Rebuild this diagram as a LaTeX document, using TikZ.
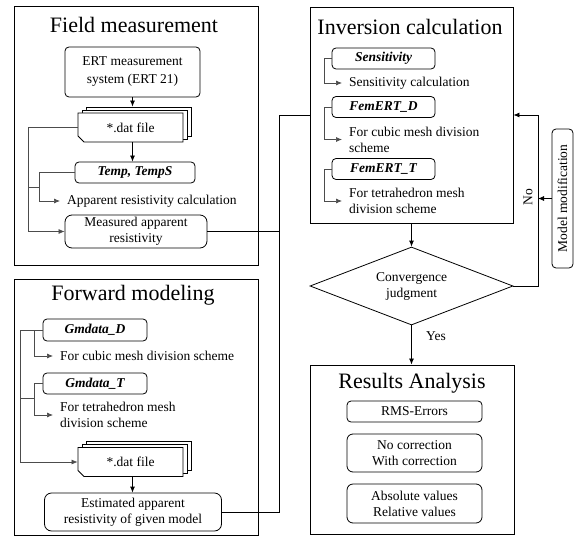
\documentclass[tikz,border=0pt]{standalone}
\usepackage{fontspec}
\setmainfont{Liberation Serif}
\usetikzlibrary{arrows.meta,shapes.geometric,shapes.misc}
\begin{document}
\begin{tikzpicture}[x=1pt,y=-1pt,
  font=\fontsize{13.5}{16}\selectfont,
  frame/.style={draw, line width=0.9pt, inner sep=0pt},
  title/.style={font=\fontsize{22}{26}\selectfont, inner sep=0pt},
  rbox/.style={draw, rounded corners=4pt, line width=0.8pt, align=center, inner sep=1pt, fill=white},
  prog/.style={rbox, font=\fontsize{13.5}{16}\selectfont\bfseries\itshape},
  lbl/.style={anchor=west, align=left, inner xsep=7pt, inner ysep=0pt},
  arr/.style={-{Latex[length=6pt,width=5pt]}, line width=0.8pt},
  brk/.style={-{Latex[length=6pt,width=5pt]}, line width=0.7pt, draw=black!70},
  link/.style={line width=0.8pt},
  gline/.style={line width=0.7pt, draw=black!70},
  datf/.style={draw, fill=white, line width=0.8pt, chamfered rectangle,
    chamfered rectangle corners=south west, chamfered rectangle xsep=3pt,
    chamfered rectangle ysep=3pt, minimum width=105pt, minimum height=29pt, inner sep=0pt},
]
\useasboundingbox (0,0) rectangle (577,537);

% ---------------- Field measurement ----------------
\node[frame, minimum width=244pt, minimum height=259pt] (field) at (136,135.5) {};
\node[title] (fieldt) at (134,25) {Field measurement};
\node[rbox, minimum width=135pt, minimum height=50pt] (ert) at (132.5,72) {ERT measurement\\[2pt]system (ERT 21)};
\node[datf] (dat1c) at (138.5,121.5) {};
\node[datf] (dat1b) at (134.5,124.5) {};
\node[datf] (dat1) at (130.5,127.5) {*.dat file};
\node[prog, minimum width=120pt, minimum height=21pt] (temp) at (135,172.5) {Temp, TempS};
\node[lbl] (calc1) at (60,201) {Apparent resistivity calculation};
\node[rbox, rounded corners=7pt, minimum width=142pt, minimum height=33pt] (meas) at (136,231.5) {Measured apparent\\resistivity};
\coordinate (h1) at (0,187);

\draw[arr] (ert.south) -- (ert.south |- dat1c.north);
\draw[arr] (dat1.south -| ert.south) -- (ert.south |- temp.north);
\draw[brk] (temp.west) -- ++(-35,0) coordinate (j1) |- (calc1.west);
\draw[brk] (dat1.west) -- ++(-49,0) coordinate (j2) |- (meas.west);
\draw[gline] (j2 |- h1) -- (j1 |- h1);

% ---------------- Forward modeling ----------------
\node[frame, minimum width=244pt, minimum height=256pt] (fwd) at (136,407) {};
\node[title] (fwdt) at (133,295) {Forward modeling};
\node[prog, minimum width=104pt, minimum height=22pt] (gdd) at (95,330) {Gmdata\_D};
\node[lbl] (cub1) at (53,356) {For cubic mesh division scheme};
\node[prog, minimum width=104pt, minimum height=21pt] (gdt) at (95,383.5) {Gmdata\_T};
\node[lbl] (tet1) at (53,415) {For tetrahedron mesh\\division scheme};
\node[datf] (dat2c) at (138.5,456) {};
\node[datf] (dat2b) at (134.5,459) {};
\node[datf] (dat2) at (130.5,462) {*.dat file};
\node[rbox, rounded corners=7pt, minimum width=177pt, minimum height=38pt] (est) at (133,512) {Estimated apparent\\resistivity of given model};
\coordinate (h2) at (0,398);

\draw[brk] (gdd.west) -- ++(-8,0) coordinate (j3) |- (cub1.west);
\draw[brk] (j3) -- ++(-14,0) coordinate (j4) |- (dat2.west);
\draw[brk] (gdt.west) -- ++(-8,0) coordinate (j5) |- (tet1.west);
\draw[gline] (j4 |- h2) -- (j5 |- h2);
\draw[arr] (dat2.south -| ert.south) -- (ert.south |- est.north);

% ---------------- Inversion calculation ----------------
\node[frame, minimum width=203pt, minimum height=216pt] (inv) at (411.5,115) {};
\node[title] (invt) at (410,27) {Inversion calculation};
\node[prog, minimum width=103pt, minimum height=21pt] (sens) at (383.5,58.5) {Sensitivity};
\node[lbl] (sc) at (342,83) {Sensitivity calculation};
\node[prog, minimum width=103pt, minimum height=21pt] (fd) at (383.5,107) {FemERT\_D};
\node[lbl] (fdc) at (342,139.5) {For cubic mesh division\\scheme};
\node[prog, minimum width=103pt, minimum height=21pt] (ft) at (383.5,169) {FemERT\_T};
\node[lbl] (ftc) at (342,201) {For tetrahedron mesh\\division scheme};

\draw[brk] (sens.west) -- ++(-7,0) |- (sc.west);
\draw[brk] (fd.west) -- ++(-7,0) |- (fdc.west);
\draw[brk] (ft.west) -- ++(-7,0) |- (ftc.west);

% ---------------- Links ----------------
\coordinate (bus) at (279,115);
\draw[link] (meas.east) -| (bus) -- (inv.west);
\draw[link] (est.east) -| (bus);

% ---------------- Convergence ----------------
\node[draw, diamond, aspect=2.6, minimum width=203pt, minimum height=78pt, inner sep=0pt,
  align=center, line width=0.8pt] (conv) at (411.5,286) {Convergence\\judgment};
\draw[arr] (inv.south) -- (conv.north);

\node[rbox, rotate=90, minimum width=139pt, minimum height=21pt] (model) at (562.5,198.5) {Model modification};
\coordinate (nocol) at (538,198.5);
\draw[arr] (conv.east) -| (nocol) |- (inv.east);
\draw[arr] (model.north) -- (nocol);
\node[rotate=90] (no) at (528,197) {No};

% ---------------- Results ----------------
\node[frame, minimum width=204pt, minimum height=169pt] (res) at (412,449.5) {};
\draw[arr] (conv.south) -- (conv.south |- res.north);
\node (yes) at (436,336) {Yes};
\node[title] (rest) at (412,383) {Results Analysis};
\node[rbox, minimum width=135pt, minimum height=21pt] (rms) at (414.5,411.5) {RMS-Errors};
\node[rbox, rounded corners=6pt, minimum width=135pt, minimum height=38pt] (corr) at (414.5,453) {No correction\\With correction};
\node[rbox, rounded corners=6pt, minimum width=135pt, minimum height=39pt] (absv) at (414.5,503.5) {Absolute values\\Relative values};
\end{tikzpicture}
\end{document}
